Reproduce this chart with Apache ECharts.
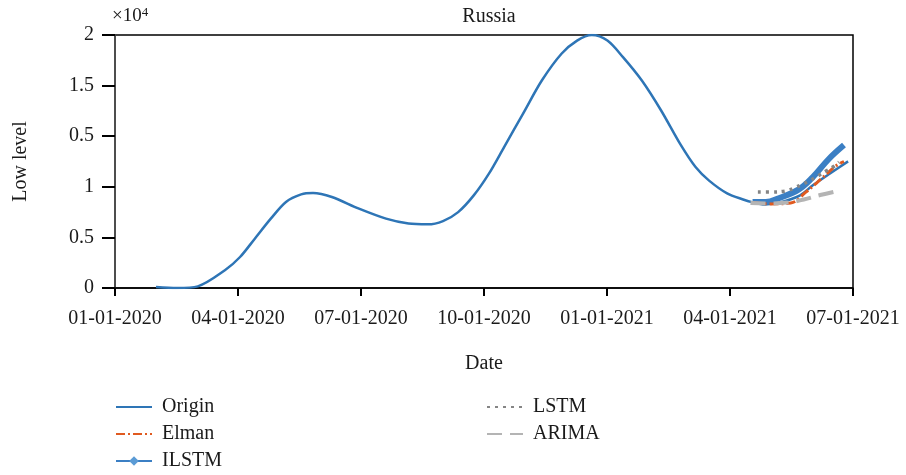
<!DOCTYPE html>
<html>
<head>
<meta charset="utf-8">
<script src="https://cdn.jsdelivr.net/npm/echarts@6/dist/echarts.min.js"></script>
<style>
  html, body { margin: 0; padding: 0; background: #fff; }
  #chart { width: 906px; height: 475px; }
</style>
</head>
<body>
<div id="chart"></div>
<script>
// x values are months elapsed since 01-01-2020; y values are in units of 10^4
const xTickLabels = ['01-01-2020', '04-01-2020', '07-01-2020', '10-01-2020', '01-01-2021', '04-01-2021', '07-01-2021'];
const yTickLabels = ['0', '0.5', '1', '0.5', '1.5', '2'];

const originData = [
  [1.00, 0.008], [1.51, 0.0], [2.02, 0.013], [2.68, 0.140], [3.05, 0.245], [3.41, 0.390],
  [3.80, 0.548], [4.17, 0.680], [4.54, 0.740], [4.83, 0.751], [5.29, 0.719], [5.95, 0.627],
  [6.61, 0.548], [7.16, 0.509], [7.63, 0.503], [8.00, 0.529], [8.37, 0.600], [8.75, 0.732],
  [9.12, 0.904], [9.49, 1.114], [9.95, 1.377], [10.41, 1.640], [10.89, 1.852], [11.27, 1.956],
  [11.63, 2.0], [12.01, 1.956], [12.39, 1.825], [12.85, 1.640], [13.32, 1.403], [13.78, 1.141],
  [14.16, 0.956], [14.49, 0.849], [14.93, 0.748], [15.32, 0.700], [15.56, 0.677], [15.85, 0.661],
  [16.22, 0.677], [16.71, 0.733], [17.02, 0.812], [17.44, 0.906], [17.88, 1.001]
];
const ilstmData = [
  [15.55, 0.68], [15.87, 0.68], [16.19, 0.71], [16.68, 0.78], [17.02, 0.877], [17.41, 1.02], [17.78, 1.13]
];
const elmanData = [
  [15.55, 0.675], [16.0, 0.665], [16.48, 0.672], [16.85, 0.758], [17.22, 0.861], [17.58, 0.964], [17.78, 1.0]
];
const lstmData = [
  [15.68, 0.759], [16.0, 0.759], [16.36, 0.767], [16.56, 0.79], [16.78, 0.822], [16.97, 0.853],
  [17.14, 0.885], [17.34, 0.924], [17.51, 0.956], [17.66, 0.995]
];
const arimaData = [
  [15.5, 0.672], [15.9, 0.668], [16.4, 0.675], [16.8, 0.70], [17.2, 0.735], [17.65, 0.768]
];

const FONT = 'Liberation Serif';
const TXT = '#1a1a1a';

const chart = echarts.init(document.getElementById('chart'));

// legend entries: plain line samples, ILSTM also carries its diamond marker
const hidden = { opacity: 0 };
const legendText = { fontFamily: FONT, fontSize: 20, color: TXT, lineHeight: 22, padding: [0, 0, 0, 5] };

chart.setOption({
  backgroundColor: '#fff',
  animation: false,
  textStyle: { fontFamily: FONT, color: TXT },
  title: {
    text: 'Russia',
    left: 484,
    textAlign: 'center',
    top: 2,
    textStyle: { fontFamily: FONT, fontSize: 20, fontWeight: 'normal', color: TXT }
  },
  graphic: [{
    type: 'text',
    left: 112,
    top: 6,
    style: {
      text: '×10{sup|4}',
      fontFamily: FONT,
      fontSize: 19,
      fill: TXT,
      rich: { sup: { fontSize: 13, verticalAlign: 'top', padding: [0, 0, 8, 0], fontFamily: FONT, fill: TXT } }
    }
  }],
  grid: {
    left: 115, right: 53, top: 35, bottom: 187,
    show: true, borderColor: '#000', borderWidth: 1.5, backgroundColor: 'transparent'
  },
  legend: [{
    data: [
      { name: 'Origin', itemStyle: hidden },
      { name: 'Elman', itemStyle: hidden },
      { name: 'ILSTM' }
    ],
    orient: 'vertical',
    left: 115, top: 396, height: 80, padding: 0,
    itemWidth: 36, itemHeight: 12, itemGap: 5,
    textStyle: legendText
  }, {
    data: [
      { name: 'LSTM', itemStyle: hidden },
      { name: 'ARIMA', itemStyle: hidden }
    ],
    orient: 'vertical',
    left: 486, top: 396, height: 80, padding: 0,
    itemWidth: 36, itemHeight: 12, itemGap: 5,
    textStyle: legendText
  }],
  xAxis: {
    type: 'value',
    min: 0, max: 18, interval: 3,
    name: 'Date',
    nameLocation: 'middle',
    nameGap: 66,
    nameTextStyle: { fontFamily: FONT, fontSize: 20, color: TXT },
    axisLine: { lineStyle: { color: '#000', width: 1.5 } },
    axisTick: { length: 8, lineStyle: { color: '#000', width: 2 } },
    axisLabel: {
      margin: 21, fontFamily: FONT, fontSize: 20, color: TXT,
      formatter: v => xTickLabels[Math.round(v / 3)]
    },
    splitLine: { show: false }
  },
  yAxis: {
    type: 'value',
    min: 0, max: 2, interval: 0.4,
    name: 'Low level',
    nameLocation: 'middle',
    nameGap: 84,
    nameRotate: 90,
    nameTextStyle: { fontFamily: FONT, fontSize: 20, color: TXT },
    axisLine: { show: true, lineStyle: { color: '#555', width: 1.5 } },
    axisTick: { show: true, length: 13, lineStyle: { color: '#000', width: 2 } },
    axisLabel: {
      margin: 21, fontFamily: FONT, fontSize: 20, color: TXT,
      formatter: v => yTickLabels[Math.round(v / 0.4)]
    },
    splitLine: { show: false }
  },
  series: [{
    name: 'Origin',
    type: 'line',
    data: originData,
    smooth: 0.3,
    symbol: 'none',
    color: '#2e75b6',
    lineStyle: { width: 2.5, color: '#2e75b6' },
    z: 2
  }, {
    name: 'ILSTM',
    type: 'line',
    data: ilstmData,
    smooth: 0.4,
    symbol: 'diamond',
    symbolSize: 7,
    showSymbol: false,
    color: '#5b9bd5',
    lineStyle: { width: 6, color: '#3b7fc4' },
    z: 3
  }, {
    name: 'Elman',
    type: 'line',
    data: elmanData,
    smooth: 0.4,
    symbol: 'none',
    color: '#e0703a',
    lineStyle: { width: 3, color: '#e05a20', type: [9, 3, 2, 3] },
    z: 4
  }, {
    name: 'LSTM',
    type: 'line',
    data: lstmData,
    smooth: 0.4,
    symbol: 'none',
    color: '#8c8c8c',
    lineStyle: { width: 3.5, color: '#858585', type: [3, 5] },
    z: 5
  }, {
    name: 'ARIMA',
    type: 'line',
    data: arimaData,
    smooth: 0.4,
    symbol: 'none',
    color: '#b8b8b8',
    lineStyle: { width: 4, color: '#b4b4b4', type: [15, 8] },
    z: 6
  }]
});
</script>
</body>
</html>
